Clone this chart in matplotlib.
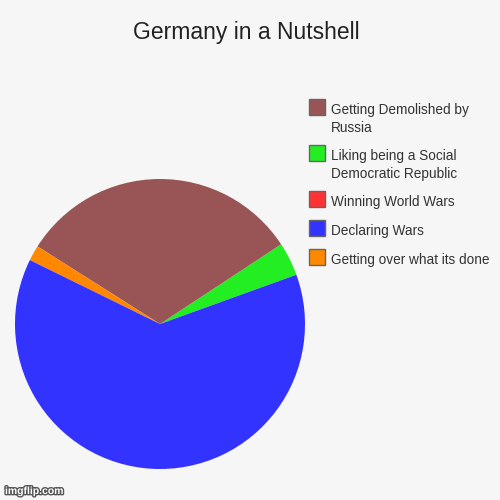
import matplotlib
matplotlib.use('Agg')
import matplotlib.pyplot as plt
import matplotlib.patheffects as pe
from matplotlib.patches import Rectangle

plt.rcParams['font.family'] = ['Liberation Sans', 'DejaVu Sans']

# slices, in drawing order (counterclockwise from the start angle)
slice_labels = ['Liking being a Social\nDemocratic Republic', 'Getting Demolished by\nRussia',
                'Winning World Wars', 'Getting over what its done', 'Declaring Wars']
slice_values = [3.75, 31.75, 0.0, 1.72, 62.78]
slice_colors = ['#22ee22', '#995555', '#ff3333', '#ff8800', '#3333ff']

# legend order as shown in the picture
legend_labels = ['Getting Demolished by\nRussia', 'Liking being a Social\nDemocratic Republic',
                 'Winning World Wars', 'Declaring Wars', 'Getting over what its done']
legend_colors = ['#995555', '#22ee22', '#ff3333', '#3333ff', '#ff8800']

bg = '#f6f6f6'
fig = plt.figure(figsize=(5, 5), dpi=100, facecolor=bg)

ax = fig.add_axes([0.03, 0.062, 0.58, 0.58])
ax.set_facecolor(bg)
ax.pie(slice_values, colors=slice_colors, startangle=19.85, counterclock=True,
       radius=1.0, wedgeprops=dict(linewidth=0))
ax.set_xlim(-1, 1)
ax.set_ylim(-1, 1)
ax.set_aspect('equal')
ax.axis('off')

fig.text(0.493, 0.923, 'Germany in a Nutshell', ha='center', va='baseline',
         fontsize=16.5, color='#222222')

# legend drawn by hand
box_tops = [99, 145, 191, 220, 249]
for lab, col, top in zip(legend_labels, legend_colors, box_tops):
    fig.patches.append(Rectangle((309 / 500, 1 - (top + 16) / 500), 16 / 500, 16 / 500,
                                 transform=fig.transFigure, facecolor=col,
                                 edgecolor='#666666', linewidth=1))
    fig.text(331 / 500, 1 - (top + 4) / 500, lab, ha='left', va='top',
             fontsize=9.8, color='#333333', linespacing=1.4)

fig.text(0.01, 0.008, 'imgflip.com', ha='left', va='bottom', fontsize=7.5,
         color='white', fontweight='bold',
         path_effects=[pe.withStroke(linewidth=2, foreground='#555555')])

fig.savefig('out.png', dpi=100, facecolor=bg)
